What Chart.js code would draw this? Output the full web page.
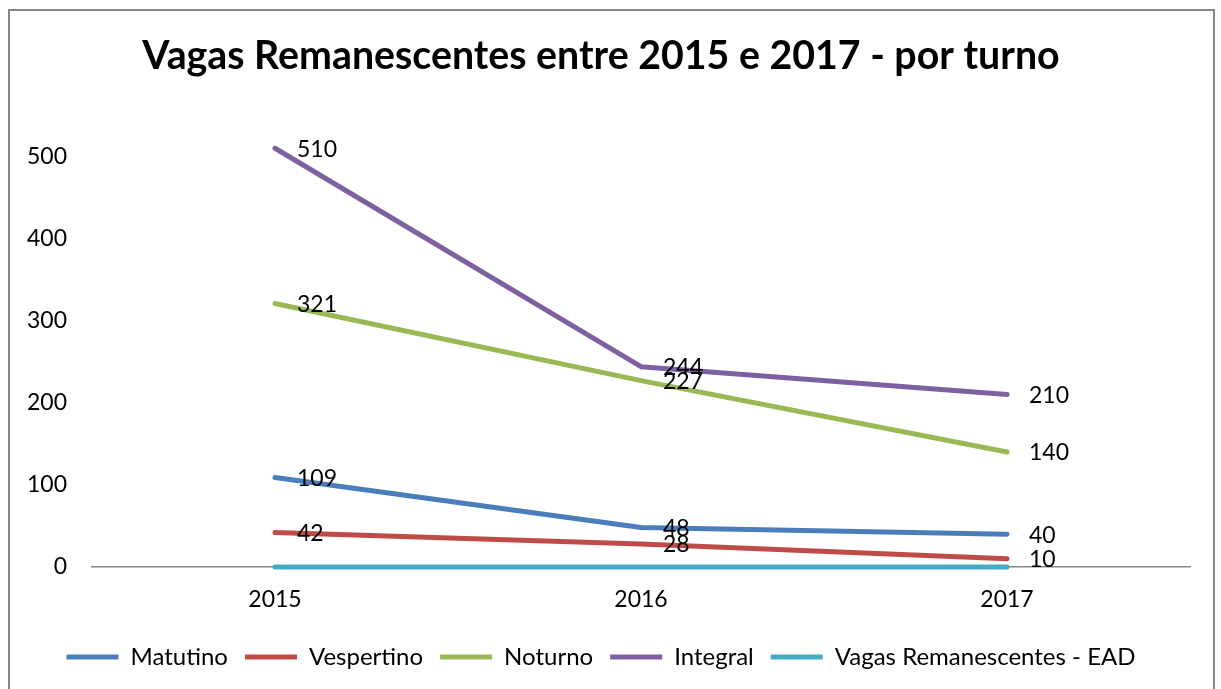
<!DOCTYPE html>
<html>
<head>
<meta charset="utf-8">
<script src="https://cdn.jsdelivr.net/npm/chart.js"></script>
<style>
  html, body { margin: 0; padding: 0; background: #fff; overflow: hidden; }
  .frame {
    position: absolute; left: 8px; top: 9px; width: 1207px; height: 700px;
    border: 2px solid #878787; box-sizing: border-box;
  }
  .chart-wrapper { position: absolute; left: 0; top: 0; width: 1221px; height: 689px; }
</style>
</head>
<body>
<div class="frame"></div>
<div class="chart-wrapper"><canvas id="vagasChart"></canvas></div>
<script>
const anos = ["2015", "2016", "2017"];
const matutino = [109, 48, 40];
const vespertino = [42, 28, 10];
const noturno = [321, 227, 140];
const integral = [510, 244, 210];
const ead = [0, 0, 0];
const yTicks = [0, 100, 200, 300, 400, 500];

const FONT = "Lato";

// rotulos de dados a direita de cada ponto
const rotulos = {
  id: "rotulos",
  afterDatasetsDraw(chart) {
    const ctx = chart.ctx;
    ctx.save();
    ctx.font = `23px ${FONT}`;
    ctx.fillStyle = "#000";
    ctx.textAlign = "left";
    ctx.textBaseline = "middle";
    chart.data.datasets.forEach((ds, i) => {
      if (!ds.showValues) return;
      chart.getDatasetMeta(i).data.forEach((pt, j) => {
        ctx.fillText(String(ds.data[j]), pt.x + 22, pt.y + 1);
      });
    });
    ctx.restore();
  },
};

function serie(label, data, color, order, showValues) {
  return {
    label,
    data,
    borderColor: color,
    backgroundColor: color,
    borderWidth: 5,
    borderCapStyle: "round",
    borderJoinStyle: "round",
    pointRadius: 0,
    pointHoverRadius: 0,
    pointStyle: "line",
    tension: 0,
    clip: false,
    order,
    showValues,
  };
}

new Chart(document.getElementById("vagasChart"), {
  type: "line",
  data: {
    labels: anos,
    datasets: [
      serie("Matutino", matutino, "#4A7EBB", 4, true),
      serie("Vespertino", vespertino, "#BE4B48", 3, true),
      serie("Noturno", noturno, "#98B954", 2, true),
      serie("Integral", integral, "#7D60A0", 1, true),
      serie("Vagas Remanescentes - EAD", ead, "#46AAC5", 0, false),
    ],
  },
  options: {
    responsive: true,
    maintainAspectRatio: false,
    animation: false,
    layout: { padding: { left: 12, right: 31, top: 0, bottom: 10 } },
    plugins: {
      title: {
        display: true,
        text: "Vagas Remanescentes entre 2015 e 2017 - por turno",
        color: "#000",
        font: { family: FONT, size: 39.3, weight: "bold", lineHeight: 0.9 },
        padding: { top: 39, bottom: 0 },
      },
      legend: {
        position: "bottom",
        labels: {
          usePointStyle: true,
          pointStyleWidth: 52,
          padding: 17,
          color: "#000",
          font: { family: FONT, size: 24 },
          sort: (a, b) => a.datasetIndex - b.datasetIndex,
        },
      },
      tooltip: { enabled: false },
    },
    scales: {
      x: {
        offset: true,
        grid: { display: false, drawTicks: false },
        border: { display: true, color: "#868686", width: 1.5 },
        ticks: { color: "#000", font: { family: FONT, size: 23 }, padding: 19 },
        afterFit: (s) => { s.height = 61; },
      },
      y: {
        min: 0,
        max: 600,
        grid: { display: false, drawTicks: false },
        border: { display: false },
        ticks: {
          stepSize: 100,
          padding: 25,
          color: "#000",
          font: { family: FONT, size: 23 },
          callback: (v) => (yTicks.includes(v) ? v : ""),
        },
        afterFit: (s) => { s.width = 80; },
      },
    },
  },
  plugins: [rotulos],
});
</script>
</body>
</html>
